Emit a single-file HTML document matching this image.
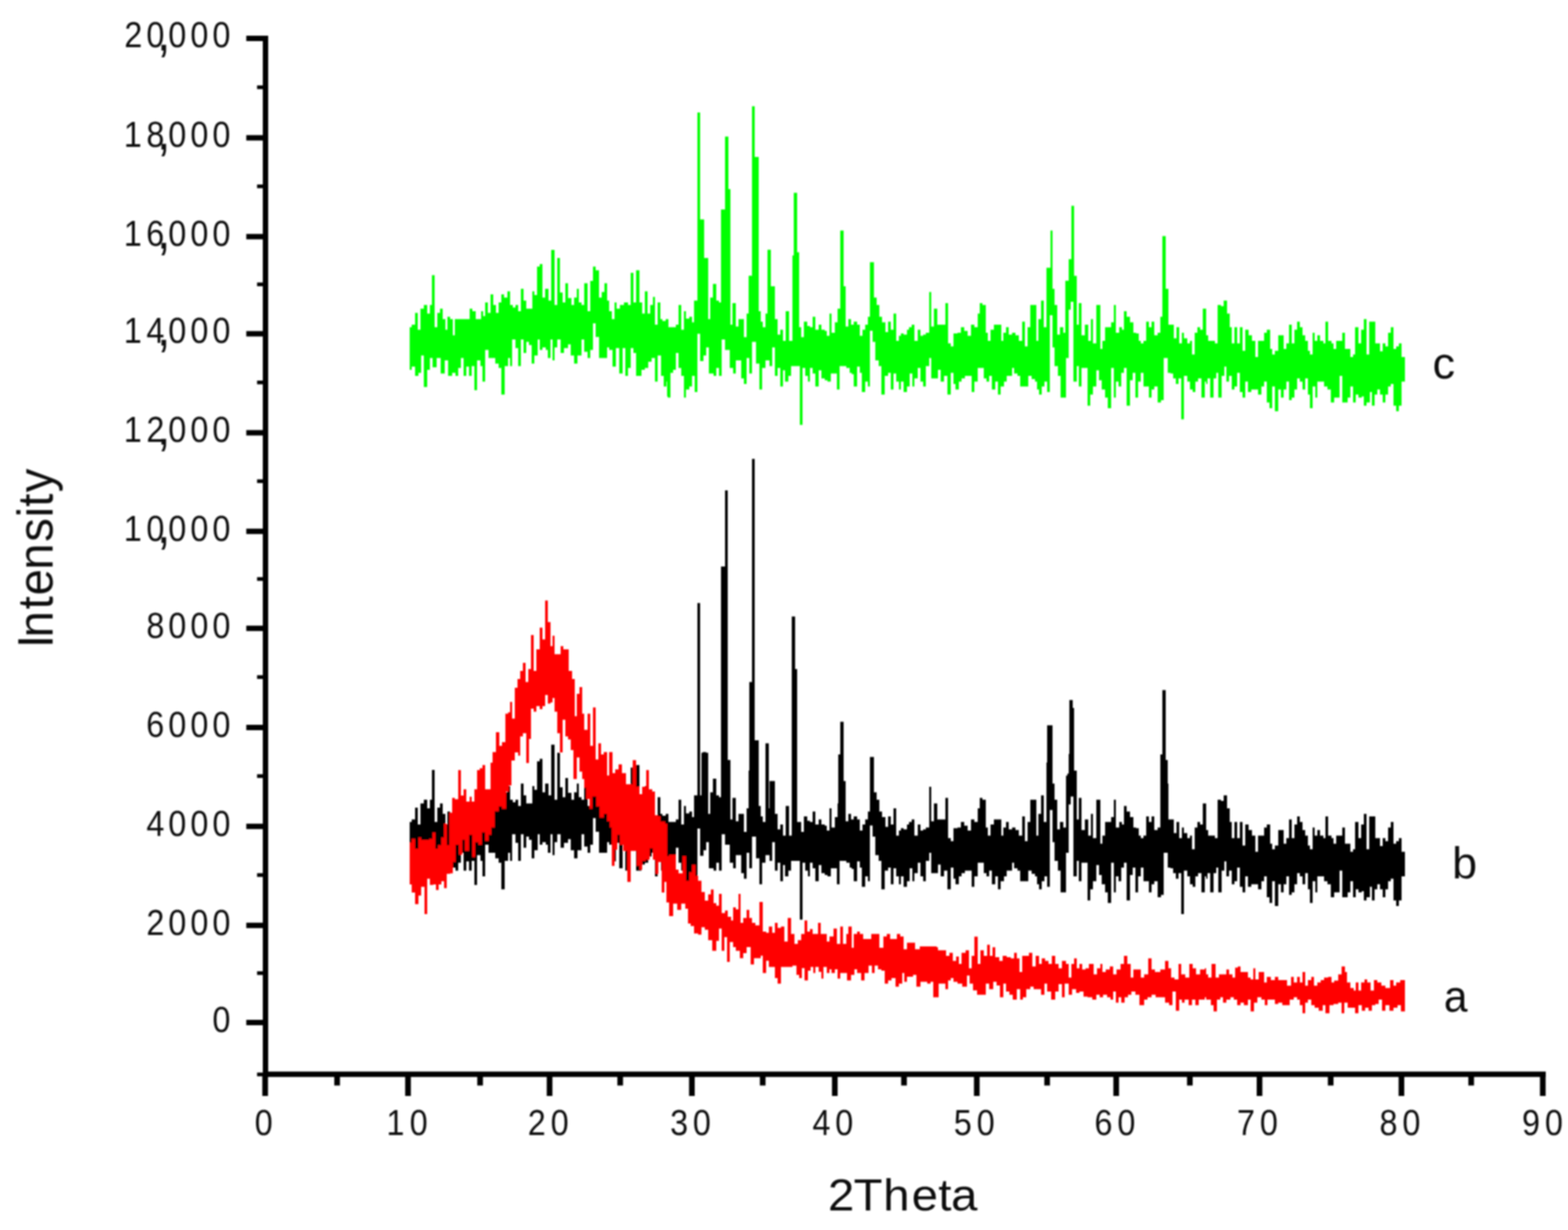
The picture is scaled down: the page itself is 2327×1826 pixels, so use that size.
<!DOCTYPE html>
<html lang="en"><head><meta charset="utf-8"><title>XRD patterns</title>
<style>
html,body{margin:0;padding:0;background:#fff;}
body{width:2327px;height:1826px;overflow:hidden;font-family:"Liberation Sans",sans-serif;}
svg{display:block;}
</style></head><body>
<svg width="2327" height="1826" viewBox="0 0 2327 1826">
<rect width="2327" height="1826" fill="#fff"/>
<g id="traces" filter="url(#soft)">
<path class="tc" fill="#00ff00" d="M608 485.8H611V482.1H616V464.6H620V489.4H624V458.2H629V452.7H634V465.6H638V452.7H641V408.6H645V485.8H649V464.6H653V458.2H657V473.8H661V489.4H664V470.2H668V473.8H672V497.7H675V473.8H697V458.2H701V461.9H706V473.8H714V461.9H717V469.2H720V449.0H724V464.6H728V437.1H732V452.7H736V464.6H740V449.0H744V437.1H748V441.7H753V432.5H757V452.7H761V456.4H765V452.7H769V461.9H773V428.8H777V446.3H781V458.2H790V432.5H793V438.0H797V395.7H801V392.1H805V441.7H809V428.8H814V446.3H818V370.9H823V452.7H827V382.9H831V434.3H835V449.0H839V420.5H843V442.6H848V452.7H852V441.7H856V428.8H859V449.0H863V452.7H867V420.5H872V461.9H876V416.9H880V395.7H884V401.2H889V441.7H893V433.4H897V420.5H901V446.3H904V461.9H908V473.8H912V449.0H915V458.2H920V452.7H926V449.0H932V452.7H936V404.9H940V449.0H944V401.2H949V449.0H953V465.6H957V432.5H961V465.6H965V452.7H969V440.8H972V482.1H976V449.0H980V473.8H983V476.6H988V473.8H992V485.8H1003V482.1H1007V452.7H1011V489.4H1015V461.9H1018V472.9H1023V470.2H1027V478.4H1030V446.3H1035V166.9H1039V325.8H1045V382.9H1051V473.8H1054V441.7H1058V421.5H1063V446.3H1067V449.0H1070V311.1H1076V202.7H1081V280.8H1084V482.1H1087V449.9H1092V484.8H1096V473.8H1104V500.5H1108V465.6H1111V409.5H1112V409.2H1115V409.5H1116V157.7H1120V233.0H1126V461.9H1129V477.5H1132V485.8H1136V465.6H1139V370.8H1144V425.1H1150V473.8H1154V496.8H1158V489.4H1162V506.0H1166V461.9H1171V506.0H1176V379.2H1178V286.3H1183V374.5H1186V485.8H1189V500.5H1193V477.5H1198V483.9H1202V485.8H1206V470.2H1210V489.4H1215V482.1H1219V489.4H1224V491.3H1227V498.6H1231V465.6H1234V494.0H1239V478.4H1243V458.2H1247V342.3H1252V425.1H1255V484.8H1259V473.8H1263V482.1H1267V477.5H1272V482.1H1276V498.6H1280V489.4H1284V482.1H1288V470.2H1291V389.3H1292V389.2H1297V441.7H1301V452.7H1305V470.2H1309V478.4H1314V493.1H1318V477.5H1322V489.4H1326V465.6H1330V506.0H1334V498.6H1337V495.0H1341V496.8H1346V489.4H1349V485.8H1353V482.1H1357V506.0H1362V489.4H1366V498.6H1370V496.8H1374V494.0H1379V433.4H1382V484.8H1386V458.2H1391V482.1H1403V449.9H1407V509.7H1411V514.2H1415V495.0H1421V494.0H1426V485.8H1431V491.3H1436V498.6H1441V482.1H1446V485.8H1451V465.6H1454V449.9H1458V452.7H1463V494.0H1466V506.0H1470V489.4H1475V482.1H1486V506.0H1489V494.0H1493V485.8H1497V496.8H1502V494.0H1507V497.7H1512V506.0H1517V477.5H1521V514.2H1525V485.8H1529V452.7H1538V506.0H1541V473.8H1545V446.3H1549V485.8H1553V397.6H1554V397.5H1558V397.6H1559V342.3H1562V428.8H1565V452.7H1569V496.8H1573V485.8H1578V494.0H1581V416.7H1586V384.7H1590V305.6H1594V409.5H1595V409.4H1598V482.1H1601V449.9H1605V497.7H1610V482.1H1615V506.0H1619V473.8H1622V509.7H1627V452.7H1633V517.9H1636V506.0H1640V485.8H1649V478.4H1653V452.7H1656V494.0H1661V485.8H1665V489.4H1668V461.9H1672V470.2H1677V478.4H1682V494.0H1686V495.0H1690V506.0H1693V509.7H1697V506.0H1701V477.5H1705V485.8H1709V477.5H1713V497.7H1718V494.0H1722V470.2H1725V350.6H1730V428.8H1734V482.1H1742V502.3H1746V485.8H1750V509.7H1754V494.0H1757V502.3H1762V509.7H1766V506.0H1769V526.2H1773V494.0H1777V485.8H1781V489.4H1785V458.2H1790V497.7H1793V506.0H1803V509.7H1807V452.7H1812V454.5H1816V446.3H1821V465.6H1825V485.8H1828V509.7H1832V485.8H1836V509.7H1840V485.8H1844V520.7H1848V489.4H1853V497.7H1858V506.0H1863V529.9H1867V506.0H1876V494.0H1880V489.4H1885V517.9H1888V526.2H1892V520.7H1897V497.7H1905V517.9H1909V509.7H1913V482.1H1917V509.7H1921V489.4H1925V477.5H1929V485.8H1933V497.7H1937V506.0H1941V520.7H1944V526.2H1948V494.0H1951V506.0H1955V497.7H1959V506.0H1964V509.7H1967V477.5H1971V506.0H1976V509.7H1979V517.9H1983V506.0H1992V494.0H1996V517.9H2004V529.9H2008V526.2H2011V485.8H2016V509.7H2020V489.4H2024V473.8H2028V526.2H2032V477.5H2041V509.7H2048V521.6H2052V509.7H2056V514.2H2060V494.0H2064V485.8H2068V517.9H2072V514.2H2076V509.7H2080V529.9H2085V566.4H2080V602.2H2076V610.5H2072V602.2H2068V570.1H2064V573.7H2060V585.7H2056V597.6H2052V585.7H2048V578.3H2044V585.7H2040V602.2H2036V582.0H2033V597.6H2028V602.2H2024V588.4H2021V590.3H2016V585.7H2012V597.6H2008V573.7H2004V590.3H2000V597.6H1992V558.1H1988V590.3H1980V597.6H1975V578.3H1970V573.7H1965V566.4H1955V590.3H1952V573.7H1948V605.9H1944V585.7H1941V561.8H1937V578.3H1933V566.4H1929V561.8H1925V578.3H1921V590.3H1917V593.9H1913V566.4H1909V578.3H1905V590.3H1901V578.3H1897V610.5H1892V573.7H1888V605.9H1884V597.6H1880V566.4H1876V573.7H1872V585.7H1867V578.3H1857V582.0H1852V566.4H1848V590.3H1844V582.0H1840V553.5H1836V573.7H1832V578.3H1828V558.1H1824V566.4H1820V544.3H1817V558.1H1813V590.3H1808V553.5H1805V561.8H1801V590.3H1796V561.8H1792V570.1H1790V566.4H1788V590.3H1783V561.8H1778V566.4H1774V582.0H1770V578.3H1766V566.4H1762V558.1H1757V622.4H1753V561.8H1749V570.1H1745V561.8H1741V554.4H1737V553.5H1733V531.5H1727V593.9H1723V597.6H1718V573.7H1713V578.3H1709V590.3H1705V573.7H1697V553.5H1693V566.4H1689V590.3H1685V553.5H1681V564.5H1677V602.2H1672V546.2H1668V553.5H1664V573.7H1660V566.4H1656V590.3H1653V546.2H1649V605.9H1644V590.3H1640V578.3H1635V564.5H1631V549.8H1627V573.7H1622V585.7H1618V602.2H1614V546.2H1605V573.7H1601V543.4H1598V566.4H1593V447.9H1589V459.8H1586V531.5H1582V590.3H1574V558.1H1570V543.4H1565V515.8H1562V468.1H1558V582.0H1554V566.4H1550V573.7H1546V585.7H1542V578.3H1539V566.4H1536V562.7H1531V558.1H1526V573.7H1514V558.1H1510V554.4H1505V546.2H1502V558.1H1494V566.4H1490V573.7H1485V585.7H1481V566.4H1477V578.3H1472V558.1H1468V566.4H1464V561.8H1460V546.2H1451V566.4H1446V582.0H1442V558.1H1432V561.8H1427V566.4H1423V578.3H1418V570.1H1415V553.5H1411V585.7H1406V558.1H1401V566.4H1396V548.9H1392V561.8H1382V531.5H1379V543.4H1374V573.7H1370V566.4H1366V546.2H1362V561.8H1357V573.7H1354V554.4H1350V573.7H1346V582.0H1341V566.4H1337V578.3H1334V566.4H1330V554.4H1326V578.3H1322V553.5H1318V558.1H1313V585.7H1308V543.4H1304V535.1H1299V507.6H1295V491.0H1291V573.7H1288V566.4H1284V582.0H1279V553.5H1276V544.3H1272V573.7H1267V555.4H1264V553.5H1261V546.2H1256V543.4H1246V578.3H1242V554.4H1233V566.4H1228V564.5H1224V561.8H1219V549.8H1215V573.7H1210V554.4H1206V546.2H1202V566.4H1199V558.1H1195V546.2H1191V630.7H1187V543.4H1174V558.1H1170V566.4H1165V549.8H1162V573.7H1158V546.2H1154V558.1H1150V515.8H1146V543.4H1142V535.1H1136V546.2H1131V578.3H1127V539.7H1122V507.6H1116V554.4H1112V531.5H1108V570.1H1104V561.8H1100V535.1H1092V554.4H1088V546.2H1083V519.5H1076V503.9H1071V558.1H1067V546.2H1063V558.1H1059V554.4H1052V515.8H1048V527.8H1044V536.1H1039V495.6H1035V582.0H1031V558.1H1027V573.7H1023V578.3H1018V590.3H1015V558.1H1011V546.2H1007V524.1H1003V548.9H999V553.5H995V590.3H991V588.4H990V566.4H989V573.7H985V558.1H981V527.8H976V566.4H972V531.5H967V537.0H962V546.2H957V548.9H952V558.1H944V524.1H940V516.8H936V546.2H932V558.1H928V516.8H924V554.4H919V516.8H914V544.3H909V519.5H904V515.8H901V531.5H889V500.2H884V480.0H880V519.5H876V531.5H872V522.3H867V503.9H863V527.8H857V539.7H852V527.8H847V511.3H843V516.8H837V524.1H832V503.9H827V515.8H823V535.1H820V503.9H817V531.5H813V519.5H810V515.8H805V519.5H801V503.9H798V527.8H793V539.7H789V512.2H785V507.6H781V524.1H777V503.9H773V543.4H769V516.8H765V503.9H760V543.4H757V531.5H754V543.4H749V585.7H744V546.2H740V539.7H735V531.5H725V519.5H720V566.4H716V543.4H713V535.1H708V579.2H704V543.4H700V558.1H696V544.3H692V558.1H688V531.5H684V546.2H680V558.1H676V553.5H671V558.1H665V535.1H660V554.4H654V531.5H648V545.2H642V531.5H638V548.9H634V574.6H629V527.8H625V553.5H621V558.1H616V544.3H611V548.9H608Z"/>
<path class="tb" fill="#000000" d="M608 1220.3H611V1216.6H616V1199.1H620V1223.9H624V1192.7H629V1187.2H634V1200.1H638V1187.2H641V1143.1H645V1220.3H649V1199.1H653V1192.7H657V1208.3H661V1223.9H664V1204.7H668V1208.3H672V1232.2H675V1208.3H697V1192.7H701V1196.4H706V1208.3H714V1196.4H717V1203.7H720V1183.5H724V1199.1H728V1171.6H732V1187.2H736V1199.1H740V1183.5H744V1171.6H748V1176.2H753V1167.0H757V1187.2H761V1190.9H765V1187.2H769V1196.4H773V1163.3H777V1180.8H781V1192.7H790V1167.0H793V1172.5H797V1130.2H801V1126.6H805V1176.2H809V1163.3H814V1180.8H818V1105.4H823V1187.2H827V1117.4H831V1168.8H835V1183.5H839V1155.0H843V1177.1H848V1187.2H852V1176.2H856V1163.3H859V1183.5H863V1187.2H867V1155.0H872V1196.4H876V1151.4H880V1130.2H884V1135.7H889V1176.2H893V1167.9H897V1155.0H901V1180.8H904V1196.4H908V1208.3H912V1183.5H915V1192.7H920V1187.2H926V1183.5H932V1187.2H936V1139.4H940V1183.5H944V1135.7H949V1183.5H953V1200.1H957V1167.0H961V1200.1H965V1187.2H969V1175.3H972V1216.6H976V1183.5H980V1208.3H983V1211.1H988V1208.3H992V1220.3H1003V1216.6H1007V1187.2H1011V1223.9H1015V1196.4H1018V1207.4H1023V1204.7H1027V1212.9H1030V1180.8H1035V895.2H1039V1180.8H1041V1117.4H1043V1116.4H1048V1117.4H1051V1208.3H1054V1176.2H1058V1156.0H1063V1180.8H1067V1183.5H1070V841.1H1076V728.1H1080V1128.2H1084V1216.6H1087V1184.4H1092V1219.3H1096V1208.3H1104V1235.0H1108V1200.1H1111V1144.0H1112V1012.6H1116V681.2H1120V1099.0H1126V1196.4H1129V1212.0H1132V1220.3H1136V1103.6H1141V1200.1H1142V1159.6H1150V1208.3H1154V1231.3H1158V1223.9H1162V1240.5H1166V1196.4H1171V1240.5H1175V915.2H1180V993.3H1183V1220.3H1189V1235.0H1193V1212.0H1198V1218.4H1202V1220.3H1206V1204.7H1210V1223.9H1215V1216.6H1219V1223.9H1224V1225.8H1227V1233.1H1231V1200.1H1234V1228.5H1239V1212.9H1243V1192.7H1244V1120.1H1247V1071.4H1252V1159.6H1255V1219.3H1259V1208.3H1263V1216.6H1267V1212.0H1272V1216.6H1276V1233.1H1280V1223.9H1284V1216.6H1288V1204.7H1291V1123.8H1292V1123.8H1297V1176.2H1301V1187.2H1305V1204.7H1309V1212.9H1314V1227.6H1318V1212.0H1322V1223.9H1326V1200.1H1330V1240.5H1334V1233.1H1337V1229.5H1341V1231.3H1346V1223.9H1349V1220.3H1353V1216.6H1357V1240.5H1362V1223.9H1366V1233.1H1370V1231.3H1374V1228.5H1379V1167.9H1382V1219.3H1386V1192.7H1391V1216.6H1403V1184.4H1407V1244.2H1411V1248.7H1415V1229.5H1421V1228.5H1426V1220.3H1431V1225.8H1436V1233.1H1441V1216.6H1446V1220.3H1451V1200.1H1454V1184.4H1458V1187.2H1463V1228.5H1466V1240.5H1470V1223.9H1475V1216.6H1486V1240.5H1489V1228.5H1493V1220.3H1497V1231.3H1502V1228.5H1507V1232.2H1512V1240.5H1517V1212.0H1521V1248.7H1525V1220.3H1529V1187.2H1538V1240.5H1541V1208.3H1545V1180.8H1549V1220.3H1553V1132.1H1554V1076.8H1562V1163.3H1565V1187.2H1569V1231.3H1573V1220.3H1578V1228.5H1582V1151.4H1584V1148.5H1586V1119.2H1587V1039.2H1592V1051.1H1594V1144.0H1598V1216.6H1601V1184.4H1605V1232.2H1610V1216.6H1615V1240.5H1619V1208.3H1622V1244.2H1627V1187.2H1633V1252.4H1636V1240.5H1640V1220.3H1649V1212.9H1653V1187.2H1656V1228.5H1661V1220.3H1665V1223.9H1668V1196.4H1672V1204.7H1677V1212.9H1682V1228.5H1686V1229.5H1690V1240.5H1693V1244.2H1697V1240.5H1701V1212.0H1705V1220.3H1709V1212.0H1713V1232.2H1718V1228.5H1722V1120.0H1725V1024.4H1730V1128.2H1733V1163.3H1734V1216.6H1742V1236.8H1746V1220.3H1750V1244.2H1754V1228.5H1757V1236.8H1762V1244.2H1766V1240.5H1769V1260.7H1773V1228.5H1777V1220.3H1781V1223.9H1785V1192.7H1790V1232.2H1793V1240.5H1803V1244.2H1807V1187.2H1812V1189.0H1816V1180.8H1821V1200.1H1825V1220.3H1828V1244.2H1832V1220.3H1836V1244.2H1840V1220.3H1844V1255.2H1848V1223.9H1853V1232.2H1858V1240.5H1863V1264.4H1867V1240.5H1876V1228.5H1880V1223.9H1885V1252.4H1888V1260.7H1892V1255.2H1897V1232.2H1905V1252.4H1909V1244.2H1913V1216.6H1917V1244.2H1921V1223.9H1925V1212.0H1929V1220.3H1933V1232.2H1937V1240.5H1941V1255.2H1944V1260.7H1948V1228.5H1951V1240.5H1955V1232.2H1959V1240.5H1964V1244.2H1967V1212.0H1971V1240.5H1976V1244.2H1979V1252.4H1983V1240.5H1992V1228.5H1996V1252.4H2004V1264.4H2008V1260.7H2011V1220.3H2016V1244.2H2020V1223.9H2024V1208.3H2028V1260.7H2032V1212.0H2041V1244.2H2048V1256.1H2052V1244.2H2056V1248.7H2060V1228.5H2064V1220.3H2068V1252.4H2072V1248.7H2076V1244.2H2080V1264.4H2085V1300.9H2080V1336.7H2076V1345.0H2072V1336.7H2068V1304.6H2064V1308.2H2060V1320.2H2056V1332.1H2052V1320.2H2048V1312.8H2044V1320.2H2040V1336.7H2036V1316.5H2033V1332.1H2028V1336.7H2024V1322.9H2021V1324.8H2016V1320.2H2012V1332.1H2008V1308.2H2004V1324.8H2000V1332.1H1992V1292.6H1988V1324.8H1980V1332.1H1975V1312.8H1970V1308.2H1965V1300.9H1955V1324.8H1952V1308.2H1948V1340.4H1944V1320.2H1941V1296.3H1937V1312.8H1933V1300.9H1929V1296.3H1925V1312.8H1921V1324.8H1917V1328.4H1913V1300.9H1909V1312.8H1905V1324.8H1901V1312.8H1897V1345.0H1892V1308.2H1888V1340.4H1884V1332.1H1880V1300.9H1876V1308.2H1872V1320.2H1867V1312.8H1857V1316.5H1852V1300.9H1848V1324.8H1844V1316.5H1840V1288.0H1836V1308.2H1832V1312.8H1828V1292.6H1824V1300.9H1820V1278.8H1817V1292.6H1813V1324.8H1808V1288.0H1805V1296.3H1801V1324.8H1796V1296.3H1792V1304.6H1790V1300.9H1788V1324.8H1783V1296.3H1778V1300.9H1774V1316.5H1770V1312.8H1766V1300.9H1762V1292.6H1757V1356.9H1753V1296.3H1749V1304.6H1745V1296.3H1741V1288.9H1737V1288.0H1733V1266.0H1727V1328.4H1723V1332.1H1718V1308.2H1713V1312.8H1709V1324.8H1705V1308.2H1697V1288.0H1693V1300.9H1689V1324.8H1685V1288.0H1681V1299.0H1677V1336.7H1672V1280.7H1668V1288.0H1664V1308.2H1660V1300.9H1656V1324.8H1653V1280.7H1649V1340.4H1644V1324.8H1640V1312.8H1635V1299.0H1631V1284.3H1627V1308.2H1622V1320.2H1618V1336.7H1614V1280.7H1605V1308.2H1601V1277.9H1598V1300.9H1593V1182.4H1589V1194.3H1586V1266.0H1582V1324.8H1574V1292.6H1570V1277.9H1565V1250.3H1562V1202.6H1558V1316.5H1554V1300.9H1550V1308.2H1546V1320.2H1542V1312.8H1539V1300.9H1536V1297.2H1531V1292.6H1526V1308.2H1514V1292.6H1510V1288.9H1505V1280.7H1502V1292.6H1494V1300.9H1490V1308.2H1485V1320.2H1481V1300.9H1477V1312.8H1472V1292.6H1468V1300.9H1464V1296.3H1460V1280.7H1451V1300.9H1446V1316.5H1442V1292.6H1432V1296.3H1427V1300.9H1423V1312.8H1418V1304.6H1415V1288.0H1411V1320.2H1406V1292.6H1401V1300.9H1396V1283.4H1392V1296.3H1382V1266.0H1379V1277.9H1374V1308.2H1370V1300.9H1366V1280.7H1362V1296.3H1357V1308.2H1354V1288.9H1350V1308.2H1346V1316.5H1341V1300.9H1337V1312.8H1334V1300.9H1330V1288.9H1326V1312.8H1322V1288.0H1318V1292.6H1313V1320.2H1308V1277.9H1304V1269.6H1299V1242.1H1295V1225.5H1291V1308.2H1288V1300.9H1284V1316.5H1279V1288.0H1276V1278.8H1272V1308.2H1267V1289.9H1264V1288.0H1261V1280.7H1256V1277.9H1246V1312.8H1242V1288.9H1233V1300.9H1228V1299.0H1224V1296.3H1219V1284.3H1215V1308.2H1210V1288.9H1206V1280.7H1202V1300.9H1199V1292.6H1195V1280.7H1191V1365.2H1187V1277.9H1174V1292.6H1170V1300.9H1165V1284.3H1162V1308.2H1158V1280.7H1154V1292.6H1150V1250.3H1146V1277.9H1142V1269.6H1136V1280.7H1131V1312.8H1127V1274.2H1122V1242.1H1116V1288.9H1112V1266.0H1108V1304.6H1104V1296.3H1100V1269.6H1092V1288.9H1088V1280.7H1083V1254.0H1076V1238.4H1071V1292.6H1067V1280.7H1063V1292.6H1059V1288.9H1052V1250.3H1048V1262.3H1044V1270.6H1039V1230.1H1035V1316.5H1031V1292.6H1027V1308.2H1023V1312.8H1018V1324.8H1015V1292.6H1011V1280.7H1007V1258.6H1003V1283.4H999V1288.0H995V1324.8H991V1322.9H990V1300.9H989V1308.2H985V1292.6H981V1262.3H976V1300.9H972V1266.0H967V1271.5H962V1280.7H957V1283.4H952V1292.6H944V1258.6H940V1251.3H936V1280.7H932V1292.6H928V1251.3H924V1288.9H919V1251.3H914V1278.8H909V1254.0H904V1250.3H901V1266.0H889V1234.7H884V1214.5H880V1254.0H876V1266.0H872V1256.8H867V1238.4H863V1262.3H857V1274.2H852V1262.3H847V1245.8H843V1251.3H837V1258.6H832V1238.4H827V1250.3H823V1269.6H820V1238.4H817V1266.0H813V1254.0H810V1250.3H805V1254.0H801V1238.4H798V1262.3H793V1274.2H789V1246.7H785V1242.1H781V1258.6H777V1238.4H773V1277.9H769V1251.3H765V1238.4H760V1277.9H757V1266.0H754V1277.9H749V1320.2H744V1280.7H740V1274.2H735V1266.0H725V1254.0H720V1300.9H716V1277.9H713V1269.6H708V1313.7H704V1277.9H700V1292.6H696V1278.8H692V1292.6H688V1266.0H684V1280.7H680V1292.6H676V1288.0H671V1292.6H665V1269.6H660V1288.9H654V1266.0H648V1279.7H642V1266.0H638V1283.4H634V1309.1H629V1262.3H625V1288.0H621V1292.6H616V1278.8H611V1283.4H608Z"/>
<path class="ta" fill="#ff0000" d="M608 1250.7H611V1245.2H616V1259.9H621V1243.3H625V1247.0H637V1245.2H642V1236.0H646V1259.9H650V1254.4H655V1243.3H659V1223.1H663V1254.4H667V1206.6H671V1184.5H675V1186.4H680V1143.2H684V1180.9H688V1171.7H692V1190.0H697V1182.7H700V1190.0H704V1171.7H708V1143.2H712V1140.4H716V1135.8H720V1171.7H728V1132.2H731V1116.5H736V1087.0H741V1107.2H745V1101.7H750V1059.5H754V1057.6H757V1042.0H760V1066.8H764V1020.9H768V1008.0H772V996.1H776V984.1H780V1012.6H784V993.3H788V942.8H792V996.1H796V963.9H801V931.8H805V949.2H809V891.4H813V923.5H817V959.3H820V943.7H823V971.3H832V959.3H836V963.9H844V996.1H849V1008.0H853V1063.2H856V1030.1H860V1020.0H864V1059.5H867V1083.4H872V1059.5H876V1107.2H880V1050.3H884V1127.5H888V1103.6H892V1120.1H896V1116.4H901V1151.3H904V1116.4H909V1147.7H913V1142.2H918V1134.8H923V1147.7H929V1164.3H939V1128.5H944V1168.0H949V1179.0H953V1168.0H959V1143.2H963V1171.7H968V1175.3H972V1210.3H976V1212.1H980V1219.4H987V1223.1H990V1270.9H993V1269.1H1003V1291.1H1007V1296.6H1013V1270.9H1018V1307.6H1023V1294.8H1027V1283.8H1032V1300.3H1036V1307.6H1041V1324.2H1046V1337.0H1051V1327.8H1055V1320.5H1059V1340.7H1063V1344.4H1067V1326.9H1071V1355.4H1076V1351.7H1080V1360.9H1085V1366.4H1088V1347.1H1092V1349.9H1096V1326.9H1099V1370.1H1103V1362.8H1108V1350.8H1112V1362.8H1116V1370.1H1121V1373.8H1127V1338.9H1132V1383.0H1137V1384.8H1141V1375.6H1146V1384.8H1150V1370.1H1154V1377.5H1159V1375.6H1164V1397.7H1169V1362.8H1174V1386.6H1179V1401.3H1184V1395.8H1189V1386.6H1194V1366.4H1198V1383.0H1202V1379.3H1206V1386.6H1214V1370.1H1218V1386.6H1227V1397.7H1231V1390.3H1237V1378.4H1242V1401.3H1247V1375.6H1251V1401.3H1256V1386.6H1259V1375.6H1264V1406.9H1267V1386.6H1272V1383.0H1276V1386.6H1281V1394.0H1293V1386.6H1305V1406.9H1311V1390.3H1316V1386.6H1321V1394.0H1331V1386.6H1336V1390.3H1341V1409.2H1346V1399.5H1358V1409.2H1365V1405.0H1390V1406.2H1392V1410.8H1404V1419.1H1409V1414.5H1414V1426.4H1419V1420.0H1423V1431.0H1427V1414.5H1433V1410.8H1438V1437.4H1442V1419.1H1446V1390.6H1451V1431.0H1455V1410.8H1460V1419.1H1465V1402.5H1469V1419.1H1473V1406.2H1477V1420.9H1483V1426.4H1488V1419.1H1494V1420.9H1500V1422.7H1505V1414.5H1509V1422.7H1513V1442.9H1517V1419.1H1527V1414.5H1532V1434.7H1537V1419.1H1542V1431.0H1546V1422.7H1551V1426.4H1556V1431.0H1561V1419.1H1566V1431.0H1571V1437.4H1576V1426.4H1582V1431.0H1586V1451.2H1590V1431.0H1594V1422.7H1598V1437.4H1602V1431.0H1606V1439.3H1611V1437.4H1616V1431.0H1623V1446.6H1628V1437.4H1633V1431.0H1636V1442.9H1641V1439.3H1647V1434.7H1652V1446.6H1657V1439.3H1663V1431.0H1668V1419.1H1673V1431.0H1678V1451.2H1682V1439.3H1693V1451.2H1698V1446.6H1704V1422.7H1709V1439.3H1714V1442.9H1722V1439.3H1729V1426.4H1734V1437.4H1738V1451.2H1743V1454.0H1749V1431.0H1753V1446.6H1759V1451.2H1765V1431.0H1770V1437.4H1775V1446.6H1781V1439.3H1788V1437.4H1790V1446.6H1793V1451.2H1798V1431.0H1804V1451.2H1809V1446.6H1820V1439.3H1824V1446.6H1829V1451.2H1833V1436.5H1837V1434.7H1841V1442.9H1852V1451.2H1856V1454.0H1860V1437.4H1863V1454.0H1868V1442.9H1876V1458.6H1880V1450.3H1886V1454.9H1892V1450.3H1897V1454.9H1910V1463.2H1916V1450.3H1920V1458.6H1925V1450.3H1929V1458.6H1933V1442.9H1937V1463.2H1941V1454.9H1946V1450.3H1950V1463.2H1955V1458.6H1960V1454.9H1965V1451.2H1971V1450.3H1976V1458.6H1980V1455.8H1986V1446.6H1991V1434.7H1996V1442.9H1999V1458.6H2004V1466.8H2009V1470.5H2012V1458.6H2016V1470.5H2020V1458.6H2025V1454.0H2029V1458.6H2034V1470.5H2039V1454.9H2044V1458.6H2050V1463.2H2056V1466.8H2063V1454.9H2068V1463.2H2072V1458.6H2078V1454.9H2085V1501.5H2079V1492.3H2074V1496.0H2068V1500.6H2062V1492.3H2056V1500.6H2051V1484.0H2046V1490.5H2041V1492.3H2036V1500.6H2031V1496.0H2026V1500.6H2021V1492.3H2016V1504.3H2011V1496.0H2000V1488.6H1995V1504.3H1991V1488.6H1986V1490.5H1979V1492.3H1973V1504.3H1967V1492.3H1963V1500.6H1957V1496.0H1951V1492.3H1946V1484.0H1941V1488.6H1937V1504.3H1933V1492.3H1929V1484.0H1925V1480.4H1920V1484.0H1914V1492.3H1903V1488.6H1897V1490.5H1892V1484.0H1881V1492.3H1877V1484.0H1872V1480.4H1866V1488.6H1861V1501.5H1856V1484.0H1852V1492.3H1846V1488.6H1841V1492.3H1836V1484.0H1831V1480.4H1826V1484.0H1820V1488.6H1815V1480.4H1811V1484.0H1806V1501.5H1801V1492.3H1797V1484.0H1790V1480.4H1788V1484.0H1779V1492.3H1774V1484.0H1769V1492.3H1764V1484.0H1758V1488.6H1754V1484.0H1750V1500.6H1745V1472.1H1740V1492.3H1735V1488.6H1729V1480.4H1715V1476.7H1709V1480.4H1703V1484.0H1698V1492.3H1691V1476.7H1685V1472.1H1679V1476.7H1674V1480.4H1669V1488.6H1664V1480.4H1660V1488.6H1656V1472.1H1652V1484.0H1648V1480.4H1643V1476.7H1637V1480.4H1632V1476.7H1627V1484.0H1621V1480.4H1614V1479.4H1608V1472.1H1602V1473.9H1597V1468.4H1591V1476.7H1586V1460.2H1580V1480.4H1576V1461.1H1571V1472.1H1566V1484.0H1560V1472.1H1554V1460.2H1550V1476.7H1545V1468.4H1534V1464.8H1529V1468.4H1523V1480.4H1518V1484.0H1514V1468.4H1509V1484.0H1503V1476.7H1498V1472.1H1493V1460.2H1489V1480.4H1484V1462.9H1479V1457.4H1474V1468.4H1468V1460.2H1463V1476.7H1450V1470.3H1444V1460.2H1439V1448.2H1435V1464.8H1428V1460.2H1421V1457.4H1415V1451.9H1411V1455.6H1407V1468.4H1403V1460.2H1393V1480.4H1385V1457.4H1381V1460.2H1376V1457.4H1366V1464.8H1360V1447.3H1355V1450.1H1346V1457.4H1342V1444.5H1339V1460.2H1334V1464.8H1329V1451.9H1323V1455.6H1318V1460.2H1313V1440.9H1308V1439.0H1303V1433.5H1298V1444.5H1294V1433.5H1289V1444.5H1283V1455.6H1278V1444.5H1272V1439.0H1268V1447.3H1263V1455.6H1257V1444.5H1247V1452.8H1243V1439.0H1239V1444.5H1234V1439.0H1231V1444.5H1227V1435.4H1222V1452.8H1219V1442.7H1215V1435.4H1210V1444.5H1207V1435.4H1203V1440.9H1199V1455.6H1194V1437.2H1190V1451.9H1186V1447.3H1182V1433.5H1176V1435.4H1159V1460.2H1154V1451.9H1150V1435.4H1141V1426.2H1137V1444.5H1132V1418.8H1129V1422.5H1119V1431.7H1114V1406.0H1108V1415.1H1103V1422.5H1098V1411.5H1092V1406.0H1088V1398.6H1083V1428.0H1079V1391.3H1075V1411.5H1071V1378.4H1067V1396.8H1063V1411.5H1057V1395.8H1051V1380.2H1046V1376.6H1041V1387.6H1036V1385.7H1030V1374.7H1025V1371.0H1021V1349.0H1017V1341.6H1011V1350.8H1005V1341.6H999V1360.0H993V1339.8H989V1309.2H986V1324.9H982V1279.8H977V1297.3H973V1276.2H969V1259.6H964V1276.2H958V1278.0H953V1290.9H949V1285.4H945V1263.3H936V1309.2H931V1263.3H925V1254.1H920V1239.4H916V1261.5H912V1285.4H908V1228.4H905V1219.2H901V1208.2H896V1213.7H890V1197.2H885V1182.5H879V1200.8H875V1186.1H870V1169.6H867V1156.6H864V1145.6H860V1124.5H856V1156.6H851V1113.4H847V1097.8H843V1093.2H839V1068.4H835V1117.1H831V1088.6H827V1056.5H823V1036.3H820V1042.7H817V1044.5H813V1031.7H809V1048.2H805V1052.8H801V1048.2H796V1056.5H792V1051.9H788V1096.9H785V1132.7H781V1088.6H776V1093.2H772V1121.7H769V1117.1H764V1129.1H759V1165.9H755V1175.1H751V1200.8H745V1197.2H740V1204.5H734V1228.4H729V1239.4H725V1248.6H720V1235.7H715V1254.1H710V1250.4H705V1272.5H701V1239.4H696V1263.3H690V1246.8H686V1268.8H681V1254.1H676V1279.8H672V1296.4H668V1297.3H663V1318.4H659V1308.3H655V1312.9H651V1321.2H647V1312.9H643V1313.8H638V1304.6H634V1357.0H630V1316.6H625V1329.4H621V1342.3H616V1324.9H611V1312.9H608Z"/>
</g>
<g id="axes" fill="#000" filter="url(#soft)">
<rect x="390.0" y="53.0" width="8.0" height="1545.8"/>
<rect x="390.0" y="1590.8" width="1904.0" height="8.0"/>
<rect x="365.5" y="1514.0" width="26" height="8"/>
<rect x="365.5" y="1369.8" width="26" height="8"/>
<rect x="365.5" y="1222.8" width="26" height="8"/>
<rect x="365.5" y="1076.0" width="26" height="8"/>
<rect x="365.5" y="928.8" width="26" height="8"/>
<rect x="365.5" y="784.8" width="26" height="8"/>
<rect x="365.5" y="638.5" width="26" height="8"/>
<rect x="365.5" y="491.5" width="26" height="8"/>
<rect x="365.5" y="347.3" width="26" height="8"/>
<rect x="365.5" y="200.6" width="26" height="8"/>
<rect x="365.5" y="53.0" width="26" height="8"/>
<rect x="381.5" y="1592.3" width="10" height="5.5"/>
<rect x="381.5" y="1441.9" width="10" height="5.5"/>
<rect x="381.5" y="1296.3" width="10" height="5.5"/>
<rect x="381.5" y="1149.4" width="10" height="5.5"/>
<rect x="381.5" y="1002.4" width="10" height="5.5"/>
<rect x="381.5" y="856.8" width="10" height="5.5"/>
<rect x="381.5" y="711.6" width="10" height="5.5"/>
<rect x="381.5" y="565.0" width="10" height="5.5"/>
<rect x="381.5" y="419.4" width="10" height="5.5"/>
<rect x="381.5" y="273.9" width="10" height="5.5"/>
<rect x="381.5" y="126.8" width="10" height="5.5"/>
<rect x="389.3" y="1594.8" width="8.4" height="32.2"/>
<rect x="601.3" y="1594.8" width="8.4" height="32.2"/>
<rect x="811.4" y="1594.8" width="8.4" height="32.2"/>
<rect x="1022.6" y="1594.8" width="8.4" height="32.2"/>
<rect x="1234.7" y="1594.8" width="8.4" height="32.2"/>
<rect x="1445.4" y="1594.8" width="8.4" height="32.2"/>
<rect x="1652.3" y="1594.8" width="8.4" height="32.2"/>
<rect x="1865.0" y="1594.8" width="8.4" height="32.2"/>
<rect x="2075.6" y="1594.8" width="8.4" height="32.2"/>
<rect x="2285.4" y="1594.8" width="8.4" height="32.2"/>
<rect x="496.1" y="1594.8" width="8.4" height="16.7"/>
<rect x="708.3" y="1594.8" width="8.4" height="16.7"/>
<rect x="916.2" y="1594.8" width="8.4" height="16.7"/>
<rect x="1127.7" y="1594.8" width="8.4" height="16.7"/>
<rect x="1337.4" y="1594.8" width="8.4" height="16.7"/>
<rect x="1549.8" y="1594.8" width="8.4" height="16.7"/>
<rect x="1761.6" y="1594.8" width="8.4" height="16.7"/>
<rect x="1970.6" y="1594.8" width="8.4" height="16.7"/>
<rect x="2179.1" y="1594.8" width="8.4" height="16.7"/>
</g>
<g id="labels" font-family="'Liberation Sans', sans-serif" fill="#111" filter="url(#softt)">
<text transform="scale(0.9 1)" x="350.3" y="1531.8" font-size="53.3">0</text>
<text transform="scale(0.9 1)" x="241.3 277.6 314.0 350.3" y="1387.6" font-size="53.3">2000</text>
<text transform="scale(0.9 1)" x="241.5 277.6 314.0 350.3" y="1240.6" font-size="53.3">4000</text>
<text transform="scale(0.9 1)" x="241.1 277.6 314.0 350.3" y="1093.8" font-size="53.3">6000</text>
<text transform="scale(0.9 1)" x="241.3 277.6 314.0 350.3" y="946.6" font-size="53.3">8000</text>
<text transform="scale(0.9 1)" font-size="53.3"><tspan x="204.2 241.3" y="802.6">10</tspan><tspan x="258.9" y="806.4" font-size="80">,</tspan><tspan x="277.6 314.0 350.3" y="802.6">000</tspan></text>
<text transform="scale(0.9 1)" font-size="53.3"><tspan x="204.2 241.3" y="656.3">12</tspan><tspan x="258.9" y="660.1" font-size="80">,</tspan><tspan x="277.6 314.0 350.3" y="656.3">000</tspan></text>
<text transform="scale(0.9 1)" font-size="53.3"><tspan x="204.2 241.5" y="509.3">14</tspan><tspan x="258.9" y="513.1" font-size="80">,</tspan><tspan x="277.6 314.0 350.3" y="509.3">000</tspan></text>
<text transform="scale(0.9 1)" font-size="53.3"><tspan x="204.2 241.1" y="365.1">16</tspan><tspan x="258.9" y="368.9" font-size="80">,</tspan><tspan x="277.6 314.0 350.3" y="365.1">000</tspan></text>
<text transform="scale(0.9 1)" font-size="53.3"><tspan x="204.2 241.3" y="218.4">18</tspan><tspan x="258.9" y="222.2" font-size="80">,</tspan><tspan x="277.6 314.0 350.3" y="218.4">000</tspan></text>
<text transform="scale(0.9 1)" font-size="53.3"><tspan x="205.0 241.3" y="70.2">20</tspan><tspan x="258.9" y="74.6" font-size="80">,</tspan><tspan x="277.6 314.0 350.3" y="70.2">000</tspan></text>
<text transform="scale(0.9 1)" x="420.1" y="1685.0" font-size="53.3">0</text>
<text transform="scale(0.9 1)" x="637.2 675.7" y="1685.0" font-size="53.3">10</text>
<text transform="scale(0.9 1)" x="870.4 908.2" y="1685.0" font-size="53.3">20</text>
<text transform="scale(0.9 1)" x="1105.0 1142.6" y="1685.0" font-size="53.3">30</text>
<text transform="scale(0.9 1)" x="1339.6 1377.2" y="1685.0" font-size="53.3">40</text>
<text transform="scale(0.9 1)" x="1572.8 1610.5" y="1685.0" font-size="53.3">50</text>
<text transform="scale(0.9 1)" x="1804.7 1842.6" y="1685.0" font-size="53.3">60</text>
<text transform="scale(0.9 1)" x="2039.6 2077.4" y="1685.0" font-size="53.3">70</text>
<text transform="scale(0.9 1)" x="2274.7 2312.5" y="1685.0" font-size="53.3">80</text>
<text transform="scale(0.9 1)" x="2509.6 2547.4" y="1685.0" font-size="53.3">90</text>
<text transform="scale(1.055 1)" x="1164.7 1200.8 1242.5 1282.4 1320.0 1337.9" y="1797.3" font-size="66.6">2Theta</text>
<text transform="translate(77.6 960.0) rotate(-90) scale(1.055 1.1)" x="-1.9 13.0 52.4 72.2 108.3 147.5 181.9 196.8 217.1" y="0" font-size="66.6">Intensity</text>
<text x="2126.0" y="561.6" font-size="66.6">c</text>
<text x="2154.9" y="1304.4" font-size="66.6">b</text>
<text transform="scale(0.95 1)" x="2255.4" y="1502.4" font-size="66.6">a</text>
</g>
<defs><filter id="soft" x="-2%" y="-2%" width="104%" height="104%"><feGaussianBlur stdDeviation="1.0"/></filter><filter id="softt" x="-2%" y="-2%" width="104%" height="104%"><feGaussianBlur stdDeviation="1.0"/></filter></defs>
</svg>
</body></html>
